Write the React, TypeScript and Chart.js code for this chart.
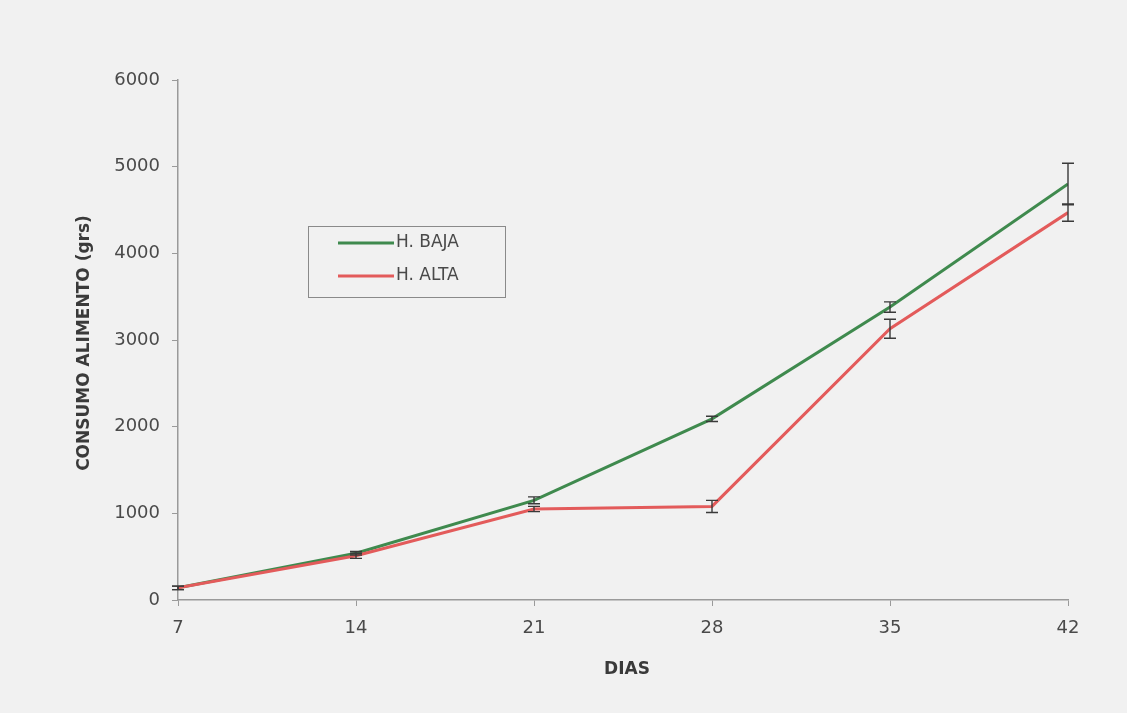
import React, { useEffect, useRef } from "react";
import { Chart, registerables } from "chart.js";

Chart.register(...registerables);

const dias = [7, 14, 21, 28, 35, 42];
const hBaja = [140, 540, 1150, 2090, 3380, 4800];
const hBajaErr = [20, 20, 40, 30, 60, 240];
const hAlta = [140, 510, 1050, 1080, 3130, 4470];
const hAltaErr = [20, 30, 30, 70, 110, 100];
const yTicks = [0, 1000, 2000, 3000, 4000, 5000, 6000];

const GREEN = "#3f8a4e";
const RED = "#e35b5b";
const BG = "#f1f1f1";
const TEXT = "#4a4a4a";
const AXIS = "#9a9a9a";
const FONT = "'DejaVu Sans', 'Liberation Sans', Arial, sans-serif";

export default function App() {
  const ref = useRef<HTMLCanvasElement>(null);
  useEffect(() => {
    if (!ref.current) return;
    const errorBars = {
      id: "errorBars",
      afterDatasetsDraw(chart: any) {
        const { ctx, scales } = chart;
        const xs = scales.x;
        const ys = scales.y;
        ctx.save();
        ctx.strokeStyle = "#3a3a3a";
        ctx.lineWidth = 1.4;
        const sets = [
          { v: hBaja, e: hBajaErr },
          { v: hAlta, e: hAltaErr },
        ];
        sets.forEach((s) => {
          dias.forEach((d, i) => {
            const x = xs.getPixelForValue(d);
            const y1 = ys.getPixelForValue(s.v[i] + s.e[i]);
            const y2 = ys.getPixelForValue(Math.max(0, s.v[i] - s.e[i]));
            ctx.beginPath();
            ctx.moveTo(x, y1);
            ctx.lineTo(x, y2);
            ctx.moveTo(x - 6, y1);
            ctx.lineTo(x + 6, y1);
            ctx.moveTo(x - 6, y2);
            ctx.lineTo(x + 6, y2);
            ctx.stroke();
          });
        });
        ctx.restore();
      },
    };
    const decor = {
      id: "decor",
      beforeDraw(chart: any) {
        const { ctx, width, height } = chart;
        ctx.save();
        ctx.fillStyle = BG;
        ctx.fillRect(0, 0, width, height);
        ctx.restore();
      },
      afterDraw(chart: any) {
        const { ctx, chartArea } = chart;
        ctx.save();
        ctx.fillStyle = "#3a3a3a";
        ctx.font = "bold 17px " + FONT;
        ctx.textAlign = "center";
        ctx.textBaseline = "middle";
        ctx.fillText("DIAS", 627, 670);
        ctx.translate(85, 343);
        ctx.rotate(-Math.PI / 2);
        ctx.fillText("CONSUMO ALIMENTO (grs)", 0, 0);
        ctx.restore();
        // legend
        ctx.save();
        const lx = chartArea.left + 130;
        const ly = chartArea.top + 146;
        ctx.fillStyle = BG;
        ctx.fillRect(lx, ly, 197, 71);
        ctx.strokeStyle = "#8a8a8a";
        ctx.lineWidth = 1;
        ctx.strokeRect(lx + 0.5, ly + 0.5, 197, 71);
        const items = [
          { label: "H. BAJA", color: GREEN, y: ly + 17 },
          { label: "H. ALTA", color: RED, y: ly + 50 },
        ];
        ctx.font = "17px " + FONT;
        ctx.textBaseline = "middle";
        ctx.textAlign = "left";
        items.forEach((it) => {
          ctx.strokeStyle = it.color;
          ctx.lineWidth = 3;
          ctx.beginPath();
          ctx.moveTo(lx + 30, it.y);
          ctx.lineTo(lx + 86, it.y);
          ctx.stroke();
          ctx.fillStyle = TEXT;
          ctx.fillText(it.label, lx + 88, it.y);
        });
        ctx.restore();
      },
    };
    const chart = new Chart(ref.current, {
      type: "line",
      data: {
        datasets: [
          {
            label: "H. ALTA",
            data: dias.map((d, i) => ({ x: d, y: hAlta[i] })),
            borderColor: RED,
            borderWidth: 3,
            pointRadius: 0,
            tension: 0,
          },
          {
            label: "H. BAJA",
            data: dias.map((d, i) => ({ x: d, y: hBaja[i] })),
            borderColor: GREEN,
            borderWidth: 3,
            pointRadius: 0,
            tension: 0,
          },
        ],
      },
      options: {
        responsive: false,
        animation: false,
        layout: { padding: { left: 0, right: 59, top: 80, bottom: 0 } },
        plugins: { legend: { display: false }, tooltip: { enabled: false } },
        scales: {
          x: {
            type: "linear",
            min: 7,
            max: 42,
            afterFit(scale: any) {
              scale.height = 113;
            },
            afterBuildTicks(scale: any) {
              scale.ticks = dias.map((v) => ({ value: v }));
            },
            grid: {
              drawOnChartArea: false,
              drawTicks: true,
              tickLength: 6,
              color: AXIS,
            },
            border: { color: AXIS, width: 1.5 },
            ticks: {
              color: TEXT,
              padding: 12,
              font: { family: FONT, size: 18 },
            },
          },
          y: {
            type: "linear",
            min: 0,
            max: 6000,
            afterFit(scale: any) {
              scale.width = 178;
            },
            afterBuildTicks(scale: any) {
              scale.ticks = yTicks.map((v) => ({ value: v }));
            },
            grid: {
              drawOnChartArea: false,
              drawTicks: true,
              tickLength: 6,
              color: AXIS,
            },
            border: { color: AXIS, width: 1.5 },
            ticks: {
              color: TEXT,
              padding: 12,
              font: { family: FONT, size: 18 },
              callback: (v: any) => String(v),
            },
          },
        },
      },
      plugins: [decor, errorBars],
    });
    return () => chart.destroy();
  }, []);
  return (
    <div style={{ position: "fixed", left: 0, top: 0, width: 1127, height: 713, background: BG }}>
      <canvas ref={ref} width={1127} height={713} />
    </div>
  );
}
